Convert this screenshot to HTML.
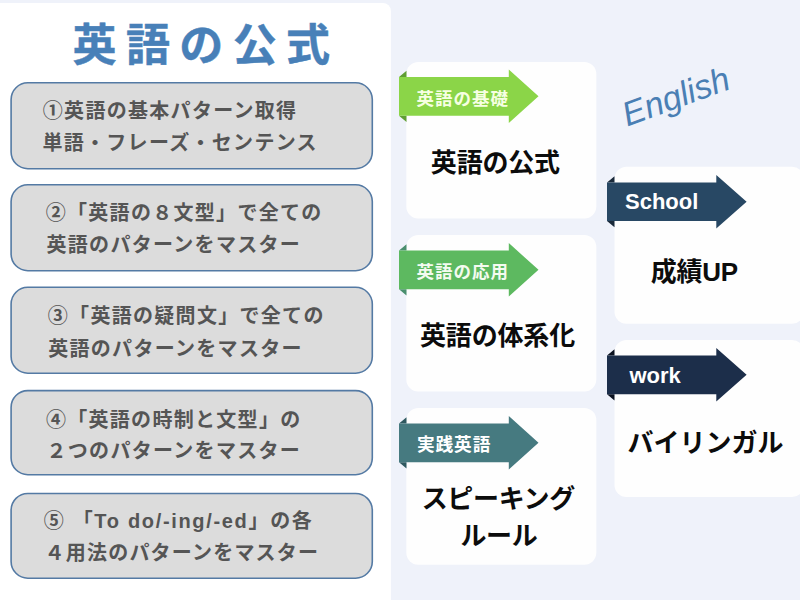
<!DOCTYPE html>
<html lang="ja"><head><meta charset="utf-8"><title>英語の公式</title>
<style>
html,body{margin:0;padding:0;background:#eff2fa;font-family:"Liberation Sans",sans-serif;}
#stage{position:relative;width:800px;height:600px;overflow:hidden;background:#eff2fa;}
#stage svg{position:absolute;left:0;top:0;display:block;}
#stage svg text{font-family:"Liberation Sans","Noto Sans CJK JP",sans-serif;font-weight:bold;}
.t{position:absolute;margin:0;padding:0;color:transparent;font-family:"Liberation Sans","Noto Sans CJK JP",sans-serif;font-weight:bold;line-height:1.6;white-space:nowrap;overflow:hidden;}
.t.title{letter-spacing:9px;line-height:1;}
.t.box{letter-spacing:1.3px;line-height:32.5px;}
.t.lab{line-height:1.2;}
h2.t{line-height:36px;text-align:center;}
.t.script{font-style:italic;font-weight:normal;transform:rotate(-20deg);}
</style>
</head><body>
<div id="stage">
<h1 class="t title" style="left:72px;top:18px;font-size:44px;width:260px;">英語の公式</h1>
<p class="t box" style="left:42px;top:96px;font-size:20px;width:320px;">①英語の基本パターン取得<br>単語・フレーズ・センテンス</p>
<p class="t box" style="left:42px;top:198px;font-size:20px;width:320px;">②「英語の８文型」で全ての<br>英語のパターンをマスター</p>
<p class="t box" style="left:42px;top:300px;font-size:20px;width:320px;">③「英語の疑問文」で全ての<br>英語のパターンをマスター</p>
<p class="t box" style="left:42px;top:404px;font-size:20px;width:320px;">④「英語の時制と文型」の<br>２つのパターンをマスター</p>
<p class="t box" style="left:42px;top:507px;font-size:20px;width:320px;">⑤ 「To do/-ing/-ed」の各<br>４用法のパターンをマスター</p>
<span class="t lab" style="left:417px;top:86px;font-size:17.5px;width:95px;">英語の基礎</span>
<h2 class="t " style="left:420px;top:146px;font-size:26px;width:160px;">英語の公式</h2>
<span class="t lab" style="left:417px;top:259px;font-size:17.5px;width:95px;">英語の応用</span>
<h2 class="t " style="left:420px;top:320px;font-size:26px;width:160px;">英語の体系化</h2>
<span class="t lab" style="left:417px;top:432px;font-size:17.5px;width:95px;">実践英語</span>
<h2 class="t " style="left:420px;top:482px;font-size:26px;width:160px;">スピーキング<br>ルール</h2>
<span class="t lab" style="left:625px;top:188px;font-size:22px;width:95px;">School</span>
<h2 class="t " style="left:628px;top:256px;font-size:26px;width:160px;">成績UP</h2>
<span class="t lab" style="left:629px;top:362px;font-size:22px;width:95px;">work</span>
<h2 class="t " style="left:628px;top:426px;font-size:26px;width:160px;">バイリンガル</h2>
<span class="t script" style="left:622px;top:60px;font-size:40px;width:120px;">English</span>
<svg width="800" height="600" viewBox="0 0 800 600" role="img" aria-label="英語の公式"><rect width="800" height="600" fill="#eff2fa"/>
<rect x="-20" y="3" width="410.9" height="620" rx="8" fill="#ffffff"/>
<text x="72.5" y="60.7" font-size="44" font-weight="900" fill="#4880b8" stroke="#4880b8" stroke-width="0.5" letter-spacing="9.4">英語の公式</text>
<rect x="11.1" y="82.8" width="361.2" height="85.9" rx="16.7" fill="#dcdcdc" stroke="#547aa4" stroke-width="1.6"/>
<text x="42.8" y="117.6" font-size="20" fill="#555555" letter-spacing="1.3">①英語の基本パターン取得</text>
<text x="42.4" y="150.3" font-size="20" fill="#555555" letter-spacing="1.3">単語・フレーズ・センテンス</text>
<rect x="11.1" y="184.8" width="361.2" height="85.9" rx="16.7" fill="#dcdcdc" stroke="#547aa4" stroke-width="1.6"/>
<text x="45.7" y="219.6" font-size="20" fill="#555555" letter-spacing="1.3">②「英語の８文型」で全ての</text>
<text x="46.5" y="251.6" font-size="20" fill="#555555" letter-spacing="1.3">英語のパターンをマスター</text>
<rect x="11.1" y="287.3" width="361.2" height="85.9" rx="16.7" fill="#dcdcdc" stroke="#547aa4" stroke-width="1.6"/>
<text x="47.8" y="322.9" font-size="20" fill="#555555" letter-spacing="1.3">③「英語の疑問文」で全ての</text>
<text x="48.2" y="356" font-size="20" fill="#555555" letter-spacing="1.3">英語のパターンをマスター</text>
<rect x="11.1" y="390.6" width="361.2" height="84.1" rx="16.7" fill="#dcdcdc" stroke="#547aa4" stroke-width="1.6"/>
<text x="45.9" y="426.6" font-size="20" fill="#555555" letter-spacing="1.3">④「英語の時制と文型」の</text>
<text x="46.5" y="458.4" font-size="20" fill="#555555" letter-spacing="1.3">２つのパターンをマスター</text>
<rect x="11.1" y="493.5" width="361.2" height="84.7" rx="16.7" fill="#dcdcdc" stroke="#547aa4" stroke-width="1.6"/>
<text x="43.8" y="528.2" font-size="20" fill="#555555" textLength="268" lengthAdjust="spacing">⑤ 「To do/-ing/-ed」の各</text>
<text x="44.6" y="560" font-size="20" fill="#555555" letter-spacing="1.2">４用法のパターンをマスター</text>
<rect x="406.3" y="62" width="190" height="156.6" rx="12" fill="#fefefe"/>
<rect x="406.3" y="235" width="190" height="156.6" rx="12" fill="#fefefe"/>
<rect x="406.3" y="408" width="190" height="156.8" rx="12" fill="#fefefe"/>
<rect x="614.5" y="166.7" width="189.5" height="157.0" rx="12" fill="#fefefe"/>
<rect x="614.5" y="339.9" width="189.5" height="157.1" rx="12" fill="#fefefe"/>
<path d="M399 77.0L406.5 70.8V77.0Z M399 115.7H406.5V121.9Z" fill="#5f9e33"/><path d="M399 77.0H508.8V69.6L538.5 96.35L508.8 123.10000000000001V115.7H399Z" fill="#8bd548"/>
<path d="M399 250.5L406.5 244.3V250.5Z M399 289.2H406.5V295.4Z" fill="#4a8f6e"/><path d="M399 250.5H508.8V243.1L538.5 269.85L508.8 296.59999999999997V289.2H399Z" fill="#5db960"/>
<path d="M399 423.5L406.5 417.3V423.5Z M399 462.2H406.5V468.4Z" fill="#2f5960"/><path d="M399 423.5H508.8V416.1L538.5 442.85L508.8 469.59999999999997V462.2H399Z" fill="#467a80"/>
<path d="M607 182.4L614.5 176.20000000000002V182.4Z M607 221.10000000000002H614.5V227.3Z" fill="#1a2a3a"/><path d="M607 182.4H716.3V175.0L746.6 201.75L716.3 228.50000000000003V221.10000000000002H607Z" fill="#284864"/>
<path d="M607 355.5L614.5 349.3V355.5Z M607 394.2H614.5V400.4Z" fill="#0b1220"/><path d="M607 355.5H716.3V348.1L746.6 374.85L716.3 401.59999999999997V394.2H607Z" fill="#1c2e4a"/>
<text x="416.5" y="104.7" font-size="17.5" font-weight="900" fill="#f6ffe2" letter-spacing="1">英語の基礎</text>
<text x="416.6" y="277.8" font-size="17.5" font-weight="900" fill="#f4fbf0" letter-spacing="1">英語の応用</text>
<text x="416.9" y="451.3" font-size="17.7" font-weight="900" fill="#ffffff" letter-spacing="0.9">実践英語</text>
<text x="625" y="208.5" font-size="22" font-weight="900" fill="#ffffff">School</text>
<text x="629.4" y="382.7" font-size="22" font-weight="900" fill="#ffffff">work</text>
<text x="430.8" y="171.5" font-size="26" fill="#0c0c0c" letter-spacing="-0.17">英語の公式</text>
<text x="419.9" y="345.3" font-size="26" fill="#0c0c0c" letter-spacing="-0.13">英語の体系化</text>
<text x="421.7" y="508.3" font-size="26" fill="#0c0c0c" letter-spacing="-0.34">スピーキング</text>
<text x="460.5" y="544.6" font-size="26" fill="#0c0c0c" letter-spacing="-0.43">ルール</text>
<text x="650.7" y="281.2" font-size="26" fill="#0c0c0c" letter-spacing="-0.2">成績UP</text>
<text x="627.4" y="452" font-size="26" fill="#0c0c0c">バイリンガル</text>
<text x="676" y="108" font-size="34" font-style="italic" font-weight="normal" style="font-weight:normal" fill="#4a7fb4" text-anchor="middle" transform="rotate(-20 676 97)">English</text>
</svg>
</div>
</body></html>
